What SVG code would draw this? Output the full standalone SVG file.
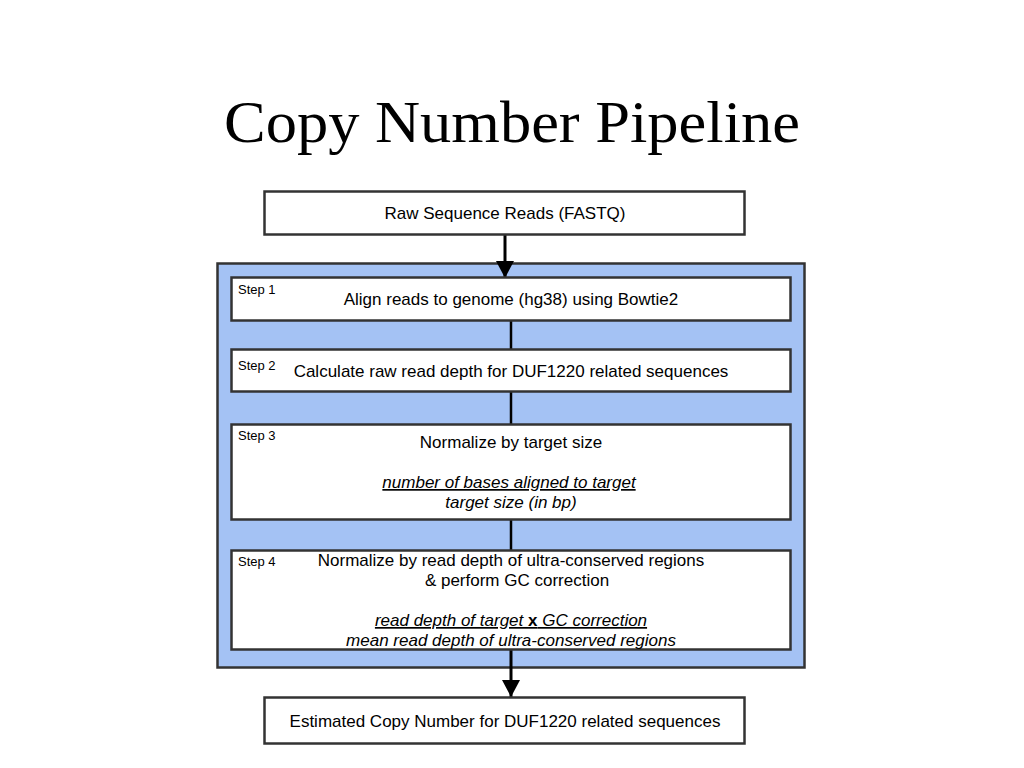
<svg xmlns="http://www.w3.org/2000/svg" width="1024" height="768" viewBox="0 0 1024 768">
<defs>
<marker id="arr" markerWidth="17" markerHeight="18" refX="17" refY="9" orient="auto" markerUnits="userSpaceOnUse" viewBox="0 0 17 18">
<path d="M0,0 L17,9 L0,18 Z" fill="#000"/>
</marker>
<style>
.box{fill:#fff;stroke:#333;stroke-width:2.5}
.cont{fill:#a4c2f4;stroke:#333;stroke-width:2.5}
.t{font-family:"Liberation Sans",Arial,sans-serif;font-size:17px;fill:#000;text-anchor:middle}
.s{font-family:"Liberation Sans",Arial,sans-serif;font-size:13px;fill:#000}
.i{font-style:italic}
.u{text-decoration:underline}
.ln{stroke:#000;stroke-width:2.5;fill:none}
.ar{stroke:#000;stroke-width:3;fill:none}
</style>
</defs>
<rect width="1024" height="768" fill="#fff"/>
<text x="512" y="142" font-family="'Liberation Serif','Times New Roman',serif" font-size="60" text-anchor="middle" textLength="576" lengthAdjust="spacingAndGlyphs" fill="#000">Copy Number Pipeline</text>
<g id="container"><rect class="cont" x="217.5" y="263.5" width="587" height="404"/></g>
<g id="connectors">
<line class="ar" x1="505" y1="234" x2="505" y2="278" marker-end="url(#arr)"/>
<line class="ln" x1="511" y1="320" x2="511" y2="349"/>
<line class="ln" x1="511" y1="392" x2="511" y2="424"/>
<line class="ln" x1="511" y1="520" x2="511" y2="550"/>
<line class="ar" x1="511" y1="650" x2="511" y2="697" marker-end="url(#arr)"/>
</g>
<g id="raw">
<rect class="box" x="264.5" y="191.5" width="480" height="43"/>
<text class="t" x="505" y="219">Raw Sequence Reads (FASTQ)</text>
</g>
<g id="step1">
<rect class="box" x="231.5" y="277.5" width="559" height="43"/>
<text class="s" x="238" y="294">Step 1</text>
<text class="t" x="511" y="305">Align reads to genome (hg38) using Bowtie2</text>
</g>
<g id="step2">
<rect class="box" x="231.5" y="349.5" width="559" height="42"/>
<text class="s" x="238" y="370">Step 2</text>
<text class="t" x="511" y="377">Calculate raw read depth for DUF1220 related sequences</text>
</g>
<g id="step3">
<rect class="box" x="231.5" y="424.5" width="559" height="95"/>
<text class="s" x="238" y="440">Step 3</text>
<text class="t" x="511" y="448">Normalize by target size</text>
<text class="t i u" x="509" y="488">number of bases aligned to target</text>
<text class="t i" x="511" y="508">target size (in bp)</text>
</g>
<g id="step4">
<rect class="box" x="231.5" y="550.5" width="559" height="99"/>
<text class="s" x="238" y="566">Step 4</text>
<text class="t" x="511" y="566">Normalize by read depth of ultra-conserved regions</text>
<text class="t" x="517" y="586">&amp; perform GC correction</text>
<text class="t u" x="511" y="626"><tspan class="i">read depth of target </tspan><tspan font-weight="bold">x</tspan><tspan class="i"> GC correction</tspan></text>
<text class="t i" x="511" y="646">mean read depth of ultra-conserved regions</text>
</g>
<g id="estimate">
<rect class="box" x="264.5" y="697.5" width="480" height="46"/>
<text class="t" x="505" y="727">Estimated Copy Number for DUF1220 related sequences</text>
</g>
</svg>
